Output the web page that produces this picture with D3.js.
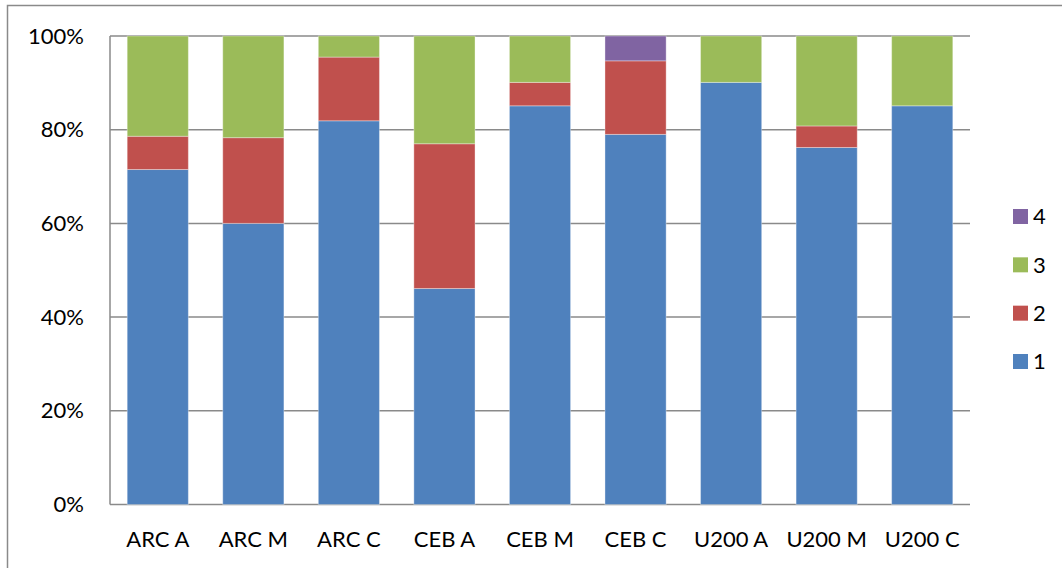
<!DOCTYPE html>
<html>
<head>
<meta charset="utf-8">
<script src="https://cdn.jsdelivr.net/npm/d3@7"></script>
<style>
  html, body { margin: 0; padding: 0; background: #fff; }
  svg { display: block; }
  text { font-family: Lato, "Open Sans", sans-serif; fill: #000; }
</style>
</head>
<body>
<svg id="chart" width="1062" height="568"></svg>
<script>
// Categories and stacked shares (percent) per response level
const categories = ["ARC A", "ARC M", "ARC C", "CEB A", "CEB M", "CEB C", "U200 A", "U200 M", "U200 C"];
const level1 = [71.5, 60.0, 81.9, 46.1, 85.1, 79.0, 90.1, 76.2, 85.1];
const level2 = [7.1, 18.3, 13.6, 30.9, 5.0, 15.7, 0, 4.6, 0];
const level3 = [21.4, 21.7, 4.5, 23.0, 9.9, 0, 9.9, 19.2, 14.9];
const level4 = [0, 0, 0, 0, 0, 5.3, 0, 0, 0];
const seriesNames = ["1", "2", "3", "4"];
const seriesColors = ["#4F81BD", "#C0504D", "#9BBB59", "#8064A2"];
const yTicks = [0, 20, 40, 60, 80, 100];

const svg = d3.select("#chart");
const margin = { left: 110, right: 970, top: 36, bottom: 504.5 };
const fontSize = 22;

// Outer chart frame
svg.append("rect")
  .attr("x", 7.5).attr("y", 5.5)
  .attr("width", 1062).attr("height", 568)
  .attr("fill", "none").attr("stroke", "#8a8a8a").attr("stroke-width", 1.5);

const x = d3.scaleBand().domain(categories)
  .range([margin.left, margin.right])
  .paddingInner(0.36).paddingOuter(0.18);
const y = d3.scaleLinear().domain([0, 100]).range([margin.bottom, margin.top]);

// Horizontal gridlines
svg.append("g").selectAll("line").data(yTicks).join("line")
  .attr("x1", margin.left).attr("x2", margin.right)
  .attr("y1", d => y(d)).attr("y2", d => y(d))
  .attr("stroke", "#8a8a8a").attr("stroke-width", 1.5);

// Vertical axis line
svg.append("line")
  .attr("x1", margin.left).attr("x2", margin.left)
  .attr("y1", y(100)).attr("y2", y(0))
  .attr("stroke", "#8a8a8a").attr("stroke-width", 1.5);

// Y tick labels
const yAxis = d3.axisLeft(y).tickValues(yTicks).tickFormat(d => d + "%").tickSize(0).tickPadding(26);
const gy = svg.append("g").attr("transform", `translate(${margin.left},0)`).call(yAxis);
gy.select(".domain").remove();
gy.selectAll("text").attr("font-size", fontSize).attr("font-family", "Lato, sans-serif").attr("fill", "#000");

// X tick labels
const xAxis = d3.axisBottom(x).tickSize(0).tickPadding(27);
const gx = svg.append("g").attr("transform", `translate(0,${margin.bottom})`).call(xAxis);
gx.select(".domain").remove();
gx.selectAll("text").attr("font-size", fontSize).attr("font-family", "Lato, sans-serif").attr("fill", "#000");

// Stacked bars
const rows = categories.map((c, i) => ({ cat: c, "1": level1[i], "2": level2[i], "3": level3[i], "4": level4[i] }));
const stack = d3.stack().keys(seriesNames)(rows);
const color = d3.scaleOrdinal().domain(seriesNames).range(seriesColors);

svg.append("g").selectAll("g").data(stack).join("g")
  .attr("fill", d => color(d.key))
  .selectAll("rect").data(d => d.filter(p => p[1] - p[0] > 0)).join("rect")
  .attr("x", d => x(d.data.cat))
  .attr("width", x.bandwidth())
  .attr("y", d => y(d[1]))
  .attr("height", d => y(d[0]) - y(d[1]))
  .attr("stroke", "#ffffff").attr("stroke-opacity", 0.35).attr("stroke-width", 1);

// Legend, top entry is the highest series
const legendItems = seriesNames.slice().reverse();
const ly = d3.scalePoint().domain(legendItems).range([216.5, 361.5]);
const legend = svg.append("g");
legend.selectAll("rect").data(legendItems).join("rect")
  .attr("x", 1013).attr("y", d => ly(d) - 7.5)
  .attr("width", 15).attr("height", 15)
  .attr("fill", d => color(d));
legend.selectAll("text").data(legendItems).join("text")
  .attr("x", 1033).attr("y", d => ly(d))
  .attr("dy", "0.36em")
  .attr("font-size", fontSize)
  .text(d => d);
</script>
</body>
</html>
